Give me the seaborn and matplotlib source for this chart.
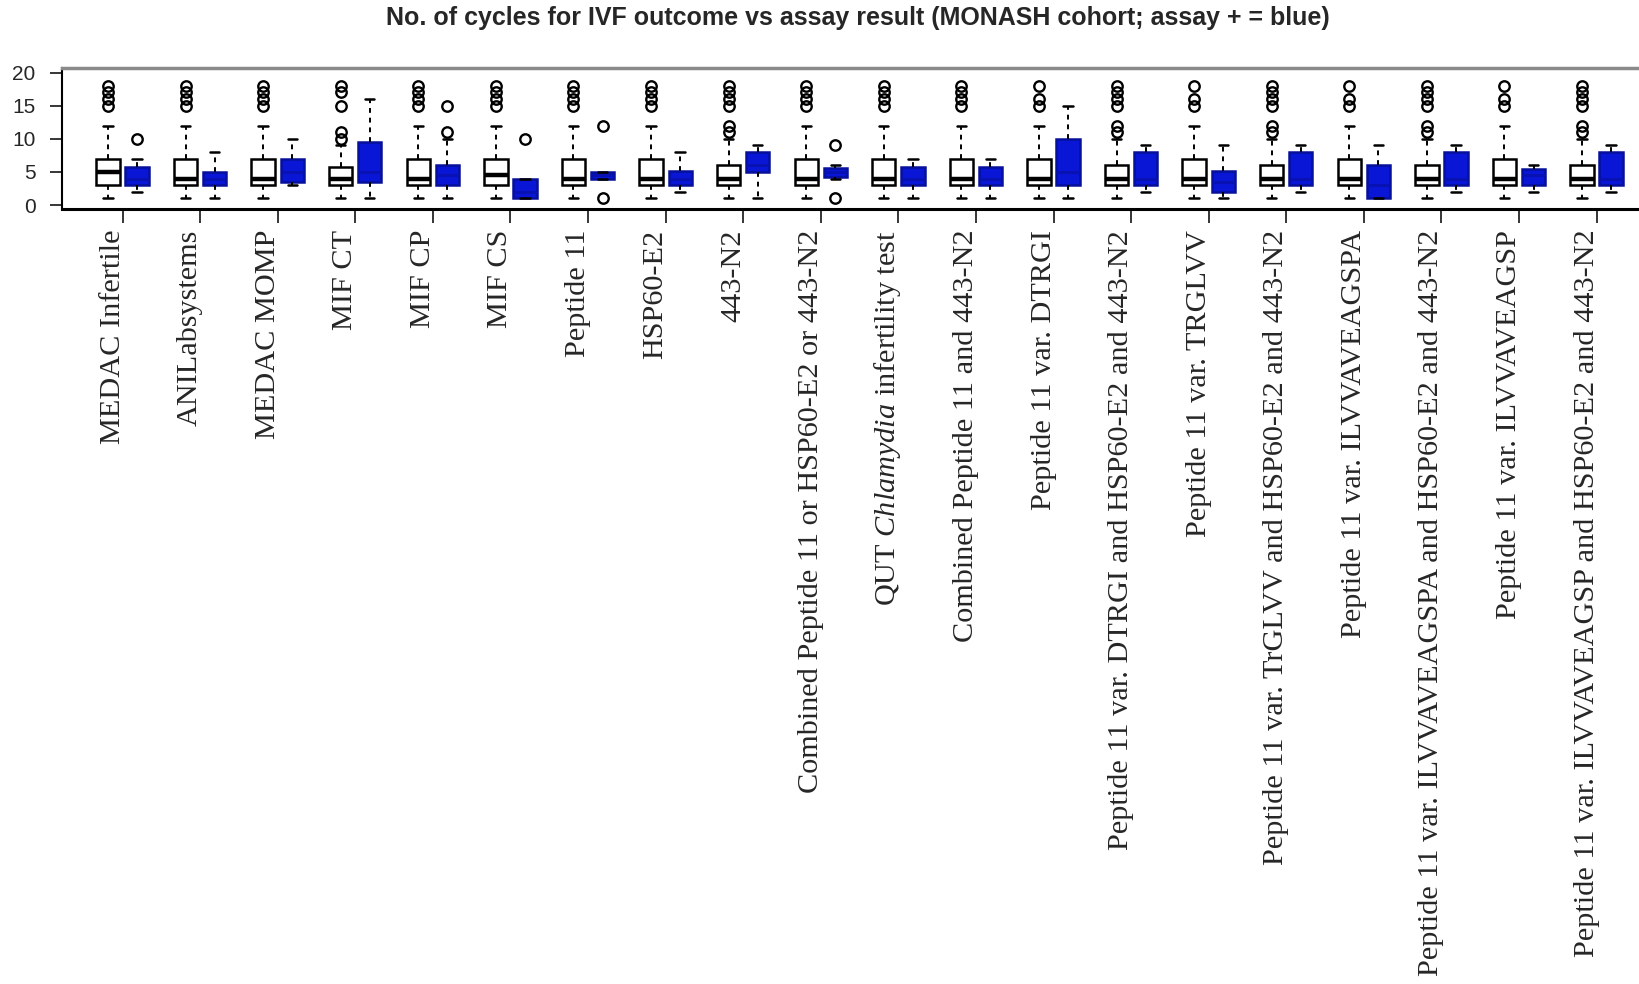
import numpy as np
import pandas as pd
import matplotlib as mpl
from matplotlib import pyplot as plt
import matplotlib.transforms as mtransforms
import seaborn as sns

ASSAYS = [
    "MEDAC Infertile",
    "ANILabsystems",
    "MEDAC MOMP",
    "MIF CT",
    "MIF CP",
    "MIF CS",
    "Peptide 11",
    "HSP60-E2",
    "443-N2",
    "Combined Peptide 11 or HSP60-E2 or 443-N2",
    "QUT $\\mathit{Chlamydia}$ infertility test",
    "Combined Peptide 11 and 443-N2",
    "Peptide 11 var. DTRGI",
    "Peptide 11 var. DTRGI and HSP60-E2 and 443-N2",
    "Peptide 11 var. TRGLVV",
    "Peptide 11 var. TrGLVV and HSP60-E2 and 443-N2",
    "Peptide 11 var. ILVVAVEAGSPA",
    "Peptide 11 var. ILVVAVEAGSPA and HSP60-E2 and 443-N2",
    "Peptide 11 var. ILVVAVEAGSP",
    "Peptide 11 var. ILVVAVEAGSP and HSP60-E2 and 443-N2",
]

# box summaries, assay negative (white boxes)
NEG_LOW = [1, 1, 1, 1, 1, 1, 1, 1, 1, 1, 1, 1, 1, 1, 1, 1, 1, 1, 1, 1]
NEG_Q1 = [3, 3, 3, 3, 3, 3, 3, 3, 3, 3, 3, 3, 3, 3, 3, 3, 3, 3, 3, 3]
NEG_MED = [5, 4, 4, 4, 4, 4.5, 4, 4, 4, 4, 4, 4, 4, 4, 4, 4, 4, 4, 4, 4]
NEG_Q3 = [7, 7, 7, 5.7, 7, 7, 7, 7, 6, 7, 7, 7, 7, 6, 7, 6, 7, 6, 7, 6]
NEG_HIGH = [12, 12, 12, 9, 12, 12, 12, 12, 10, 12, 12, 12, 12, 10, 12, 10, 12, 10, 12, 10]
NEG_OUTLIERS = [
    [15, 16, 17, 18], [15, 16, 17, 18], [15, 16, 17, 18], [10, 11, 15, 17, 18],
    [15, 16, 17, 18], [15, 16, 17, 18], [15, 16, 17, 18], [15, 16, 17, 18],
    [11, 12, 15, 16, 17, 18], [15, 16, 17, 18], [15, 16, 17, 18], [15, 16, 17, 18],
    [15, 16, 18], [11, 12, 15, 16, 17, 18], [15, 16, 18], [11, 12, 15, 16, 17, 18],
    [15, 16, 18], [11, 12, 15, 16, 17, 18], [15, 16, 18], [11, 12, 15, 16, 17, 18],
]

# assay positive (blue boxes)
POS_LOW = [2, 1, 3, 1, 1, 1, 4, 2, 1, 4, 1, 1, 1, 2, 1, 2, 1, 2, 2, 2]
POS_Q1 = [3, 3, 3.5, 3.5, 3, 1, 4, 3, 5, 4.2, 3, 3, 3, 3, 2, 3, 1, 3, 3, 3]
POS_MED = [4, 4, 5, 5, 4.5, 2, 4.5, 4, 6, 5, 4, 4, 5, 4, 3.5, 4, 3, 4, 4.5, 4]
POS_Q3 = [5.7, 5, 7, 9.5, 6, 4, 5, 5.2, 8, 5.6, 5.7, 5.7, 10, 8, 5.2, 8, 6, 8, 5.5, 8]
POS_HIGH = [7, 8, 10, 16, 10, 4, 5, 8, 9, 6, 7, 7, 15, 9, 9, 9, 9, 9, 6, 9]
POS_OUTLIERS = [
    [10], [], [], [], [11, 15], [10], [1, 12], [], [], [1, 9],
    [], [], [], [], [], [], [], [], [], [],
]

NEG_COLOR = "white"
POS_COLOR = "#0a16d6"


def box_sample(low, q1, med, q3, high, outliers, reps=20):
    # sample whose quartiles/whiskers reproduce the read-off box
    return [low] + [q1] * reps + [med] * reps + [q3] * reps + [high] + list(outliers)


rows = []
for i, assay in enumerate(ASSAYS):
    for v in box_sample(NEG_LOW[i], NEG_Q1[i], NEG_MED[i], NEG_Q3[i], NEG_HIGH[i], NEG_OUTLIERS[i]):
        rows.append((assay, "-", v))
    for v in box_sample(POS_LOW[i], POS_Q1[i], POS_MED[i], POS_Q3[i], POS_HIGH[i], POS_OUTLIERS[i]):
        rows.append((assay, "+", v))
df = pd.DataFrame(rows, columns=["assay", "result", "cycles"])

sns.set_style("white")
plt.rcParams["mathtext.fontset"] = "custom"
plt.rcParams["mathtext.rm"] = "Liberation Serif"
plt.rcParams["mathtext.it"] = "Liberation Serif:italic"

W, H = 1640, 984
fig = plt.figure(figsize=(W / 100, H / 100), dpi=100)
ax = fig.add_axes([62 / W, 1 - 209 / H, 1592 / W, 141 / H])

sns.boxplot(data=df, x="assay", y="cycles", hue="result", order=ASSAYS,
            hue_order=["-", "+"], palette={"-": NEG_COLOR, "+": POS_COLOR},
            saturation=1, width=0.75, gap=0.2, linecolor="black", linewidth=1.8,
            whis=1.5, legend=False, ax=ax,
            medianprops=dict(color="black", linewidth=3.2),
            whiskerprops=dict(linestyle=(0, (2.5, 2.5)), linewidth=1.4),
            capprops=dict(linewidth=1.8),
            flierprops=dict(marker="o", markersize=7.5, markerfacecolor="none",
                            markeredgecolor="black", markeredgewidth=1.7))

# R-style narrow caps, darker outline/median on the blue boxes
for k, cont in enumerate(ax.containers):
    for cap in cont.caps:
        xd = cap.get_xdata()
        c = np.mean(xd)
        cap.set_xdata([c - 0.06, c + 0.06])
    if k == 1:
        for box in cont.boxes:
            box.set_edgecolor("#06109a")
        for med in cont.medians:
            med.set_color("#0812b0")
            med.set_linewidth(2)

ax.set_xlim(-0.78, 19.74)
ax.set_ylim(-0.6, 20.7)
ax.set_xlabel("")
ax.set_ylabel("")
ax.set_yticks([0, 5, 10, 15, 20])
ax.tick_params(axis="y", length=9, width=1.3, pad=10, labelsize=15, left=True)
ax.tick_params(axis="x", length=10, width=1.3, pad=5, bottom=True)
for lab in ax.get_yticklabels():
    lab.set_fontfamily(["Liberation Sans", "DejaVu Sans"])

ax.set_xticks(range(len(ASSAYS)))
ax.set_xticklabels(ASSAYS, rotation=90, fontsize=21.8, fontfamily="Liberation Serif",
                   rotation_mode="anchor", ha="right", va="baseline")
shift = mtransforms.ScaledTranslation(-3 / 100, 0, fig.dpi_scale_trans)
for lab in ax.get_xticklabels():
    lab.set_transform(lab.get_transform() + shift)

ax.spines["top"].set_color("#8a8a8a")
ax.spines["top"].set_linewidth(2.5)
ax.spines["left"].set_color("black")
ax.spines["left"].set_linewidth(1.5)
ax.spines["bottom"].set_color("black")
ax.spines["bottom"].set_linewidth(2.2)
ax.spines["right"].set_visible(False)

fig.text(858 / W, 1 - 18 / H,
         "No. of cycles for IVF outcome vs assay result (MONASH cohort; assay + = blue)",
         ha="center", va="center", fontsize=18, fontweight="bold",
         fontfamily="Liberation Sans")

fig.savefig("out.png", dpi=100)
